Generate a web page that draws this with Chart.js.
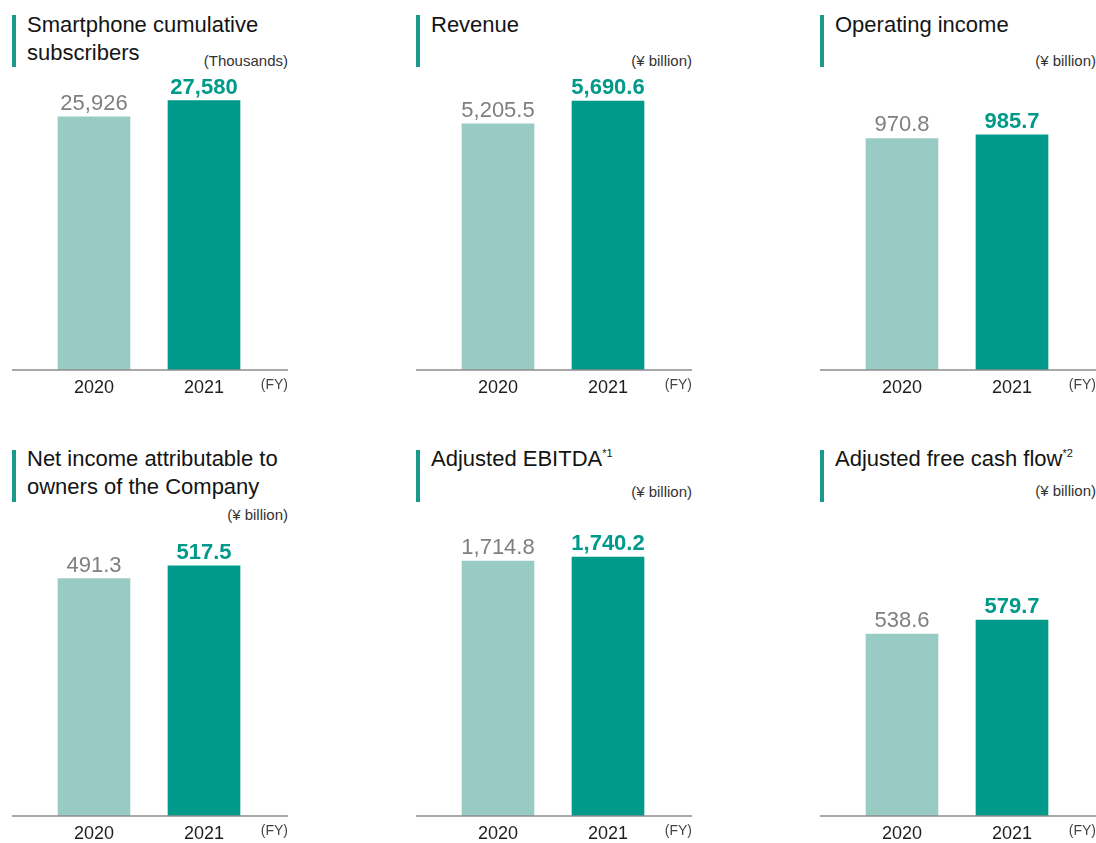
<!DOCTYPE html>
<html>
<head>
<meta charset="utf-8">
<script src="https://cdn.jsdelivr.net/npm/chart.js@4.4.1/dist/chart.umd.min.js"></script>
<style>
  html, body { margin: 0; padding: 0; background: #fff; overflow: hidden; }
  body { width: 1096px; height: 843px; position: relative; font-family: "Liberation Sans", Arial, sans-serif; }
  .mark { position: absolute; width: 4px; height: 52px; background: #1b9a8c; }
  .title { position: absolute; font-size: 22px; line-height: 28px; color: #141414; white-space: nowrap; }
  .title sup { font-size: 11px; vertical-align: 0; position: relative; top: -9px; }
  .unit { position: absolute; width: 276px; text-align: right; font-size: 15px; line-height: 16px; color: #333; }
  .cv { position: absolute; }
</style>
</head>
<body>
<script>
// ---- data ----
const categories = ['2020', '2021'];
const titles = [
  'Smartphone cumulative<br>subscribers',
  'Revenue',
  'Operating income',
  'Net income attributable to<br>owners of the Company',
  'Adjusted EBITDA<sup>*1</sup>',
  'Adjusted free cash flow<sup>*2</sup>'
];
const units = ['(Thousands)', '(¥ billion)', '(¥ billion)', '(¥ billion)', '(¥ billion)', '(¥ billion)'];
const values2020 = [25926, 5205.5, 970.8, 491.3, 1714.8, 538.6];
const values2021 = [27580, 5690.6, 985.7, 517.5, 1740.2, 579.7];
const decimals = [0, 1, 1, 1, 1, 1];
const axisMax = [29700, 6135, 1216, 600, 1950, 858];
const fyLabel = '(FY)';

// ---- layout ----
const colX = [12, 416, 820];
const rowTitleTop = [11, 445];
const rowMarkTop = [15, 450];
const rowCanvasTop = [70, 516];
const unitTop = [53, 53, 53, 507, 484, 483];

const LIGHT = '#97cbc4';
const DARK = '#009a8a';

const baselinePlugin = {
  id: 'baseline',
  afterDatasetsDraw(chart) {
    const ctx = chart.ctx;
    const y = chart.scales.y.getPixelForValue(0);
    ctx.save();
    ctx.strokeStyle = '#8c8c8c';
    ctx.lineWidth = 1.6;
    ctx.beginPath();
    ctx.moveTo(0, y);
    ctx.lineTo(chart.width, y);
    ctx.stroke();
    // value labels
    const meta = chart.getDatasetMeta(0);
    const idx = chart.options.plugins.baseline.index;
    const fmt = new Intl.NumberFormat('en-US', { minimumFractionDigits: decimals[idx], maximumFractionDigits: decimals[idx] });
    meta.data.forEach((bar, i) => {
      const v = chart.data.datasets[0].data[i];
      ctx.textAlign = 'center';
      ctx.textBaseline = 'alphabetic';
      if (i === 1) {
        ctx.font = 'bold 22px "Liberation Sans", Arial, sans-serif';
        ctx.fillStyle = DARK;
      } else {
        ctx.font = '22px "Liberation Sans", Arial, sans-serif';
        ctx.fillStyle = '#7f7f7f';
      }
      ctx.fillText(fmt.format(v), bar.x, bar.y - 7);
    });
    // (FY)
    ctx.font = '14px "Liberation Sans", Arial, sans-serif';
    ctx.fillStyle = '#444';
    ctx.textAlign = 'right';
    ctx.textBaseline = 'middle';
    ctx.fillText(fyLabel, chart.width, y + 15);
    ctx.restore();
  }
};

for (let i = 0; i < 6; i++) {
  const col = i % 3, row = Math.floor(i / 3);
  const x = colX[col];
  const mark = document.createElement('div');
  mark.className = 'mark';
  mark.style.left = x + 'px';
  mark.style.top = rowMarkTop[row] + 'px';
  document.body.appendChild(mark);

  const t = document.createElement('div');
  t.className = 'title';
  t.style.left = (x + 15) + 'px';
  t.style.top = rowTitleTop[row] + 'px';
  t.innerHTML = titles[i];
  document.body.appendChild(t);

  const u = document.createElement('div');
  u.className = 'unit';
  u.style.left = x + 'px';
  u.style.top = unitTop[i] + 'px';
  u.textContent = units[i];
  document.body.appendChild(u);

  const wrap = document.createElement('div');
  wrap.className = 'cv';
  wrap.style.left = x + 'px';
  wrap.style.top = rowCanvasTop[row] + 'px';
  wrap.style.width = '276px';
  wrap.style.height = '330px';
  const cv = document.createElement('canvas');
  cv.width = 276; cv.height = 330;
  cv.style.width = '276px'; cv.style.height = '330px';
  wrap.appendChild(cv);
  document.body.appendChild(wrap);

  new Chart(cv, {
    type: 'bar',
    data: {
      labels: categories,
      datasets: [{
        data: [values2020[i], values2021[i]],
        backgroundColor: [LIGHT, DARK],
        borderWidth: 0,
        barThickness: 72
      }]
    },
    options: {
      responsive: false,
      animation: false,
      layout: { padding: { top: 10, left: 27, right: 29, bottom: 0 } },
      plugins: {
        legend: { display: false },
        tooltip: { enabled: false },
        baseline: { index: i }
      },
      scales: {
        x: {
          grid: { display: false, drawTicks: false },
          border: { display: false },
          ticks: { color: '#1e1e1e', font: { family: '"Liberation Sans", Arial, sans-serif', size: 18 }, padding: 7 },
          afterFit: s => { s.height = 30; }
        },
        y: {
          display: false,
          min: 0,
          max: axisMax[i]
        }
      }
    },
    plugins: [baselinePlugin]
  });
}
</script>
</body>
</html>
